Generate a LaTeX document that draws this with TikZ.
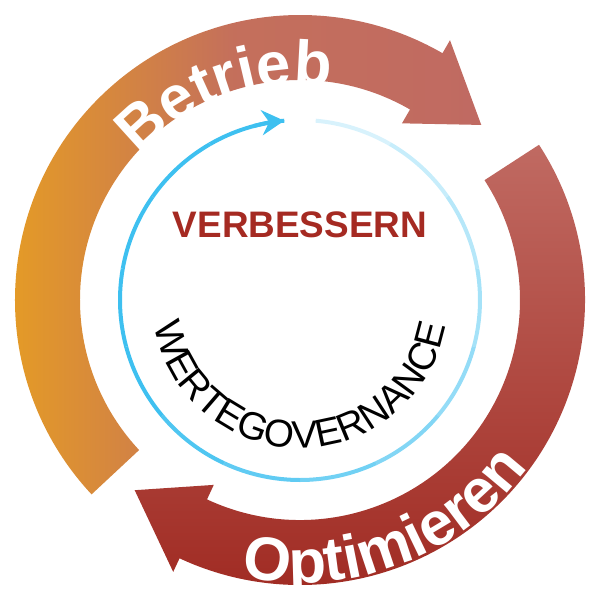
\documentclass[tikz,border=0pt]{standalone}
\usepackage{fontspec}
\setmainfont{Liberation Sans}
\usetikzlibrary{decorations.text,arrows.meta}
\definecolor{orng}{HTML}{E8A020}
\definecolor{rose}{HTML}{C06A62}
\definecolor{brick}{HTML}{A02A22}
\definecolor{sky}{HTML}{3EC0F0}
\definecolor{dred}{HTML}{A52A22}
\newcommand\bigB{\fontsize{35}{35}\selectfont\bfseries}
\newcommand\midR{\fontsize{22}{22}\selectfont}
\begin{document}
\begin{tikzpicture}[x=0.02cm,y=0.02cm]
\useasboundingbox (-300,-300) rectangle (300,300);
% outer arrow 1 (Betrieb)
\shade[left color=orng, right color=rose, middle color=rose!90!orng]
 (223:285) arc (223:60:285) -- (60:300) -- (44:252) -- (60:204) -- (60:220) arc (60:223:220) -- cycle;
% outer arrow 2 (Optimieren)
\shade[top color=rose, bottom color=brick]
 (33:285) arc (33:-115:285) -- (-115:300) -- (-131:252) -- (-115:204) -- (-115:220) arc (-115:33:220) -- cycle;
% texts on outer ring
\path[decorate, decoration={text along path, text align=center, text={|\bigB\color{white}|Betrieb}}]
 (150:216) arc (150:70:216);
\path[decorate, decoration={text along path, text align=center, text={|\bigB\color{white}|Optimieren}}]
 (-115:283) arc (-115:-23:283);
% inner blue ring
\foreach \i in {0,...,13}{
  \pgfmathsetmacro\a{85-25*\i}
  \pgfmathsetmacro\b{85-25*(\i+1)}
  \pgfmathsetmacro\p{min(100,20+80*\i/9)}
  \draw[line width=0.08cm, color=sky!\p!white] (\a:180) arc (\a:\b:180);
}
\draw[line width=0.08cm, color=sky, -{Stealth[length=0.45cm,width=0.5cm]}] (-255:180) arc (-255:-265:180);
\node (verb) at (0,75) {\fontsize{21}{21}\selectfont\bfseries\color{dred}VERBESSERN};
\path[decorate, decoration={text along path, text align=center, text={|\midR|WERTEGOVERNANCE}}]
 (188:148) arc (188:352:148);
\end{tikzpicture}
\end{document}
